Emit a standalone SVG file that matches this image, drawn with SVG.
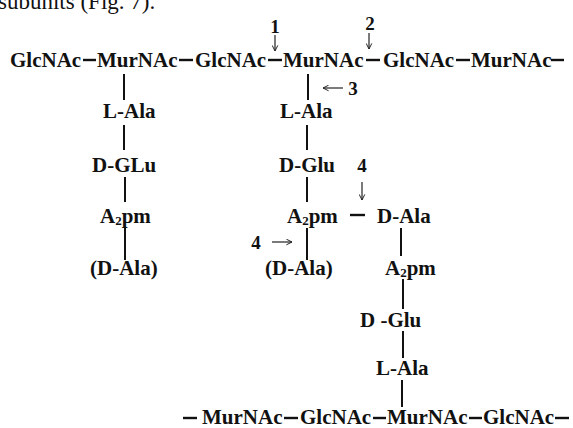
<svg xmlns="http://www.w3.org/2000/svg" width="573" height="428" viewBox="0 0 573 428">
<defs>
<style>
.t{font-family:"Liberation Serif","Times New Roman",serif;font-weight:bold;font-size:21px;fill:#111}
.n{font-family:"Liberation Serif","Times New Roman",serif;font-weight:bold;font-size:19px;fill:#111}
.h{font-family:"Liberation Serif","Times New Roman",serif;font-size:23px;fill:#111}
.b{stroke:#111;stroke-width:2.4;fill:none}
.v{stroke:#111;stroke-width:2;fill:none}
.a{stroke:#222;stroke-width:1.2;fill:none;marker-end:url(#ah)}
</style>
<marker id="ah" viewBox="0 0 10 10" refX="9" refY="5" markerWidth="7" markerHeight="7" orient="auto" markerUnits="userSpaceOnUse">
<path d="M1,1 L9,5 L1,9" fill="none" stroke="#222" stroke-width="1.4"/>
</marker>
</defs>
<rect width="573" height="428" fill="#fff"/>
<text class="h" x="-2" y="9">subunits (Fig. 7).</text>

<g id="connectors">
<!-- top row bonds -->
<line class="b" x1="83" y1="60" x2="96" y2="60"/>
<line class="b" x1="179" y1="60" x2="193" y2="60"/>
<line class="b" x1="268" y1="60" x2="282" y2="60"/>
<line class="b" x1="366" y1="60" x2="380" y2="60"/>
<line class="b" x1="456" y1="60" x2="470" y2="60"/>
<line class="b" x1="551" y1="60" x2="564" y2="60"/>
<!-- bottom row bonds -->
<line class="b" x1="183" y1="418" x2="197" y2="418"/>
<line class="b" x1="284" y1="418" x2="298" y2="418"/>
<line class="b" x1="373" y1="418" x2="386" y2="418"/>
<line class="b" x1="469" y1="418" x2="482" y2="418"/>
<line class="b" x1="555" y1="418" x2="569" y2="418"/>
<!-- left stem -->
<line class="v" x1="124" y1="74" x2="124" y2="100"/>
<line class="v" x1="124" y1="125" x2="124" y2="150"/>
<line class="v" x1="125" y1="177" x2="125" y2="202"/>
<line class="v" x1="125" y1="228" x2="125" y2="260"/>
<!-- middle stem -->
<line class="v" x1="308" y1="74" x2="308" y2="100"/>
<line class="v" x1="307" y1="125" x2="307" y2="150"/>
<line class="v" x1="307" y1="177" x2="307" y2="202"/>
<line class="v" x1="307" y1="228" x2="307" y2="260"/>
<!-- cross-link -->
<line class="b" x1="350" y1="215" x2="365" y2="215"/>
<!-- right stem -->
<line class="v" x1="401" y1="228" x2="401" y2="256"/>
<line class="v" x1="403" y1="279" x2="403" y2="309"/>
<line class="v" x1="403" y1="331" x2="403" y2="358"/>
<line class="v" x1="402" y1="380" x2="402" y2="407"/>
<!-- cleavage arrows -->
<line class="a" x1="275" y1="35" x2="275" y2="51"/>
<line class="a" x1="369" y1="33" x2="369" y2="49"/>
<line class="a" x1="343" y1="88" x2="323" y2="88"/>
<line class="a" x1="362" y1="182" x2="362" y2="200"/>
<line class="a" x1="272" y1="242" x2="292" y2="242"/>
</g>

<g id="labels">
<text class="n" x="275" y="33" text-anchor="middle">1</text>
<text class="n" x="370" y="30" text-anchor="middle">2</text>
<text class="n" x="353" y="95" text-anchor="middle">3</text>
<text class="n" x="362" y="172" text-anchor="middle">4</text>
<text class="n" x="256" y="249" text-anchor="middle">4</text>
</g>

<g id="glycan-top">
<g id="g1"><text class="t" x="10" y="67">GlcNAc</text></g>
<g id="m1"><text class="t" x="97" y="67">MurNAc</text></g>
<g id="g2"><text class="t" x="195" y="67">GlcNAc</text></g>
<g id="m2"><text class="t" x="283" y="67">MurNAc</text></g>
<g id="g3"><text class="t" x="383" y="67">GlcNAc</text></g>
<g id="m3"><text class="t" x="471" y="67">MurNAc</text></g>
</g>

<g id="peptide-left">
<g id="l-ala1"><text class="t" x="103" y="118">L-Ala</text></g>
<g id="d-glu1"><text class="t" x="92" y="172">D-GLu</text></g>
<g id="a2pm1"><text class="t" x="100" y="223">A<tspan font-size="13" dy="2">2</tspan><tspan dy="-2">pm</tspan></text></g>
<g id="d-ala1"><text class="t" x="90" y="275">(D-Ala)</text></g>
</g>

<g id="peptide-mid">
<g id="l-ala2"><text class="t" x="280" y="118">L-Ala</text></g>
<g id="d-glu2"><text class="t" x="279" y="172">D-Glu</text></g>
<g id="a2pm2"><text class="t" x="287" y="223">A<tspan font-size="13" dy="2">2</tspan><tspan dy="-2">pm</tspan></text></g>
<g id="d-ala2"><text class="t" x="265" y="275">(D-Ala)</text></g>
</g>

<g id="peptide-right">
<g id="d-ala3"><text class="t" x="377" y="223">D-Ala</text></g>
<g id="a2pm3"><text class="t" x="385" y="275">A<tspan font-size="13" dy="2">2</tspan><tspan dy="-2">pm</tspan></text></g>
<g id="d-glu3"><text class="t" x="360" y="327">D -Glu</text></g>
<g id="l-ala3"><text class="t" x="376" y="375">L-Ala</text></g>
</g>

<g id="glycan-bottom">
<g id="m4"><text class="t" x="202" y="424">MurNAc</text></g>
<g id="g4"><text class="t" x="300" y="424">GlcNAc</text></g>
<g id="m5"><text class="t" x="387" y="424">MurNAc</text></g>
<g id="g5"><text class="t" x="483" y="424">GlcNAc</text></g>
</g>
</svg>
